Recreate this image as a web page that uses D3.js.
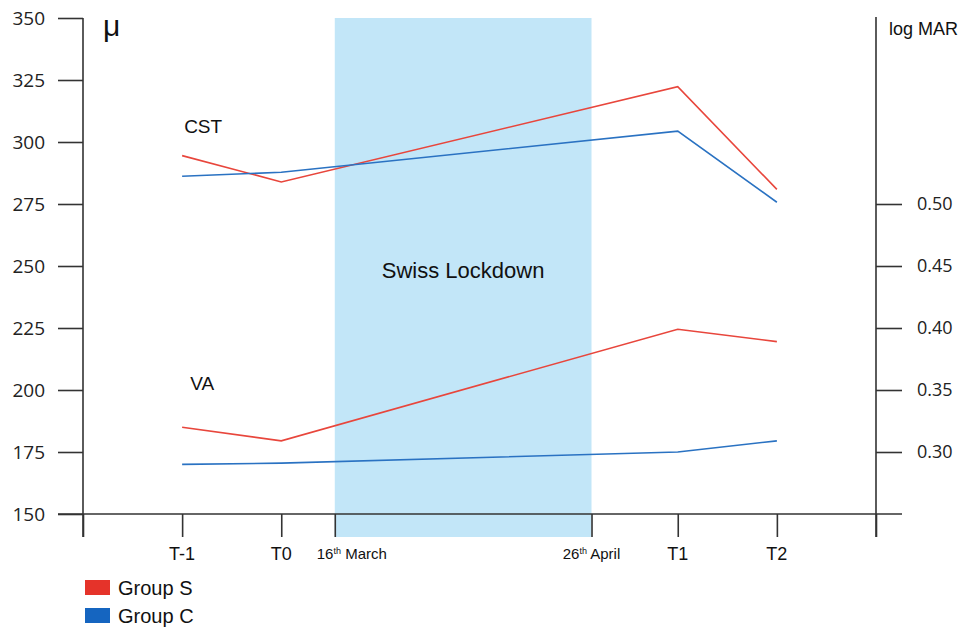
<!DOCTYPE html>
<html>
<head>
<meta charset="utf-8">
<script src="https://cdn.jsdelivr.net/npm/d3@7"></script>
<style>
	html, body { margin: 0; padding: 0; background: #fff; }
	svg { display: block; }
	.tick text { font-family: "Open Sans", "DejaVu Sans", sans-serif; fill: #222; }
	.lbl { font-family: "Liberation Sans", Arial, sans-serif; fill: #111; }
</style>
</head>
<body>
<div id="chart"></div>
<script>
/* Datos */
const timepoints = ["T-1", "T0", "T1", "T2"];
const timeIndex = [1, 2, 6, 7];
const lockdownIndex = [2.54, 5.13];
const lockdownLabels = ["16", "26"];
const lockdownMonths = ["March", "April"];

// CST (µ, eje izquierdo)
const cstGroupS = [294.5, 283.9, 322.3, 280.9];
const cstGroupC = [286.2, 287.8, 304.4, 275.7];
// VA (log MAR, eje derecho)
const vaGroupS = [0.320, 0.309, 0.399, 0.389];
const vaGroupC = [0.290, 0.291, 0.300, 0.309];

const leftTicks = [150, 175, 200, 225, 250, 275, 300, 325, 350];
const rightTicks = [0.30, 0.35, 0.40, 0.45, 0.50];
const groups = ["Group S", "Group C"];
const groupColors = ["#e5332a", "#1565c0"];
const lineColors = ["#e8463c", "#2a72c2"];

/* Escalas */
const W = 968, H = 630;
const M = { top: 18, right: 92, bottom: 116, left: 83 };

const svg = d3.select("#chart").append("svg").attr("width", W).attr("height", H);

const x = d3.scaleLinear().domain([0, 8]).range([M.left, W - M.right]);
const yL = d3.scaleLinear().domain([150, 350]).range([H - M.bottom, M.top]);
const yR = d3.scaleLinear().domain([0.25, 0.65]).range([H - M.bottom, M.top]);

const TICK = 23;
const axisColor = "#333";
const base = yL(150);

// Zona de confinamiento
svg.append("rect")
	.attr("x", x(lockdownIndex[0]))
	.attr("y", yL(350))
	.attr("width", x(lockdownIndex[1]) - x(lockdownIndex[0]))
	.attr("height", base + TICK - yL(350))
	.attr("fill", "#c2e6f8");

svg.append("text").attr("class", "lbl")
	.attr("x", (x(lockdownIndex[0]) + x(lockdownIndex[1])) / 2)
	.attr("y", yL(250) + 12)
	.attr("text-anchor", "middle")
	.attr("font-size", 22)
	.text("Swiss Lockdown");

/* Ejes */
const gL = svg.append("g")
	.attr("transform", `translate(${x(0)},0)`)
	.call(d3.axisLeft(yL).tickValues(leftTicks).tickSize(25).tickPadding(13).tickFormat(d3.format("d")));
gL.select(".domain").remove();
gL.selectAll("line").attr("stroke", axisColor).attr("stroke-width", 1.6);
gL.selectAll("text").attr("font-size", 19);

const gR = svg.append("g")
	.attr("transform", `translate(${x(8)},0)`)
	.call(d3.axisRight(yR).tickValues(rightTicks).tickSize(26).tickPadding(15).tickFormat(d3.format(".2f")));
gR.select(".domain").remove();
gR.selectAll("line").attr("stroke", axisColor).attr("stroke-width", 1.6);
gR.selectAll("text").attr("font-size", 18);

const gB = svg.append("g")
	.attr("transform", `translate(0,${base})`)
	.call(d3.axisBottom(x).tickValues([0, ...timeIndex, ...lockdownIndex, 8]).tickSize(TICK).tickFormat(""));
gB.select(".domain").remove();
gB.selectAll("line").attr("stroke", axisColor).attr("stroke-width", 1.6);

// Líneas de ejes
svg.append("line").attr("x1", x(0) - 25).attr("x2", x(8) + 26).attr("y1", base).attr("y2", base)
	.attr("stroke", axisColor).attr("stroke-width", 1.6);
svg.append("line").attr("x1", x(0)).attr("x2", x(0)).attr("y1", yL(350)).attr("y2", base + TICK)
	.attr("stroke", axisColor).attr("stroke-width", 1.6);
svg.append("line").attr("x1", x(8)).attr("x2", x(8)).attr("y1", yL(350) - 1).attr("y2", base + TICK)
	.attr("stroke", axisColor).attr("stroke-width", 1.6);

// Etiquetas del eje X
svg.selectAll(".tp").data(timepoints).join("text")
	.attr("class", "lbl tp")
	.attr("x", (d, i) => x(timeIndex[i]))
	.attr("y", base + 46)
	.attr("text-anchor", "middle")
	.attr("font-size", 18)
	.text(d => d);

lockdownIndex.forEach((v, i) => {
	const t = svg.append("text").attr("class", "lbl")
		.attr("x", i === 0 ? x(v) - 18 : x(v))
		.attr("y", base + 45)
		.attr("text-anchor", i === 0 ? "start" : "middle")
		.attr("font-size", 15);
	t.append("tspan").text(lockdownLabels[i]);
	t.append("tspan").attr("font-size", 9).attr("dy", -5).text("th");
	t.append("tspan").attr("dy", 5).text(" " + lockdownMonths[i]);
});

// Títulos de ejes
svg.append("text").attr("class", "lbl").attr("x", x(0) + 20).attr("y", 36)
	.attr("font-size", 30).text("μ");
svg.append("text").attr("class", "lbl").attr("x", x(8) + 13).attr("y", 35)
	.attr("font-size", 18).text("log MAR");

/* Series */
const lineL = d3.line().x((d, i) => x(timeIndex[i])).y(d => yL(d));
const lineR = d3.line().x((d, i) => x(timeIndex[i])).y(d => yR(d));

[cstGroupS, cstGroupC].forEach((s, k) => {
	svg.append("path").datum(s).attr("d", lineL)
		.attr("fill", "none").attr("stroke", lineColors[k]).attr("stroke-width", 1.6);
});
[vaGroupS, vaGroupC].forEach((s, k) => {
	svg.append("path").datum(s).attr("d", lineR)
		.attr("fill", "none").attr("stroke", lineColors[k]).attr("stroke-width", 1.6);
});

svg.append("text").attr("class", "lbl").attr("x", x(1) + 2).attr("y", yL(305) + 3)
	.attr("font-size", 19).text("CST");
svg.append("text").attr("class", "lbl").attr("x", x(1) + 8).attr("y", yL(200))
	.attr("font-size", 19).text("VA");

/* Leyenda */
const leg = svg.append("g").attr("transform", "translate(85,580)");
groups.forEach((g, i) => {
	leg.append("rect").attr("x", 0).attr("y", i * 28).attr("width", 25).attr("height", 15).attr("fill", groupColors[i]);
	leg.append("text").attr("class", "lbl").attr("x", 33).attr("y", i * 28 + 15)
		.attr("font-size", 20).text(g);
});
</script>
</body>
</html>
